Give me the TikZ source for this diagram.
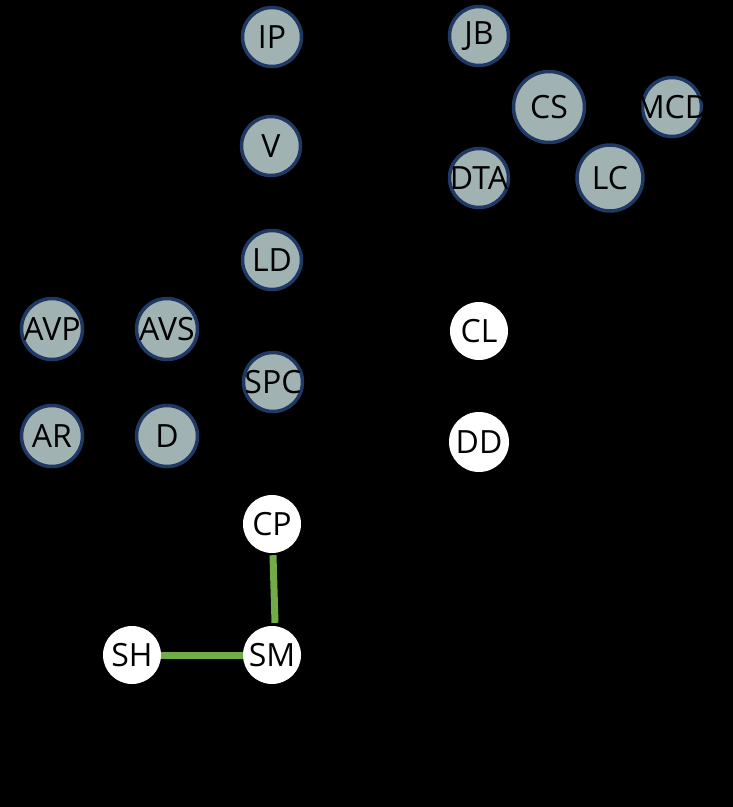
\documentclass[tikz,border=0pt]{standalone}
\usepackage{fontspec}
\setmainfont{Open Sans}
\definecolor{nodefill}{HTML}{A1B2B3}
\definecolor{nodeline}{HTML}{1F3864}
\definecolor{edgegreen}{HTML}{70AD47}
\newcommand{\lbl}[1]{\makebox[0pt][c]{#1}}
\begin{document}
\begin{tikzpicture}[x=1pt,y=-1pt,
  gnode/.style={circle,fill=nodefill,draw=nodeline,line width=3.5pt,minimum size=59pt,inner sep=0pt,font=\fontsize{32}{36}\selectfont,text=black},
  wnode/.style={circle,fill=white,minimum size=58pt,inner sep=0pt,font=\fontsize{32}{36}\selectfont,text=black},
  gedge/.style={draw=edgegreen,line width=7pt}]
\fill[black] (0,0) rectangle (733,807);
\useasboundingbox (0,0) rectangle (733,807);
\node[gnode] (IP) at (272,37) {\lbl{IP}};
\node[gnode] (JB) at (479,36) {\lbl{JB}};
\node[gnode,minimum size=71pt] (CS) at (549,107) {\lbl{CS}};
\node[gnode] (MCD) at (672,107) {\lbl{MCD}};
\node[gnode] (DTA) at (479,178) {\lbl{DTA}};
\node[gnode,minimum size=66pt] (LC) at (610,178) {\lbl{LC}};
\node[gnode] (V) at (271,146) {\lbl{V}};
\node[gnode] (LD) at (272,260) {\lbl{LD}};
\node[gnode,minimum size=61pt] (AVP) at (52,329) {\lbl{AVP}};
\node[gnode,minimum size=61pt] (AVS) at (167,329) {\lbl{AVS}};
\node[gnode] (SPC) at (273,382) {\lbl{SPC}};
\node[gnode,minimum size=61pt] (AR) at (52,436) {\lbl{AR}};
\node[gnode,minimum size=61pt] (D) at (167,436) {\lbl{D}};
\node[wnode] (CL) at (479,331) {\lbl{CL}};
\node[wnode,minimum size=60pt] (DD) at (479,442) {\lbl{DD}};
\node[wnode] (CP) at (272,524) {\lbl{CP}};
\node[wnode] (SH) at (132,655) {\lbl{SH}};
\node[wnode] (SM) at (272,655) {\lbl{SM}};
\draw[gedge] ([xshift=1pt,yshift=-2pt]CP.south) -- ([xshift=3pt,yshift=3pt]SM.north);
\draw[gedge] (SH.east) -- (SM.west);
\end{tikzpicture}
\end{document}
